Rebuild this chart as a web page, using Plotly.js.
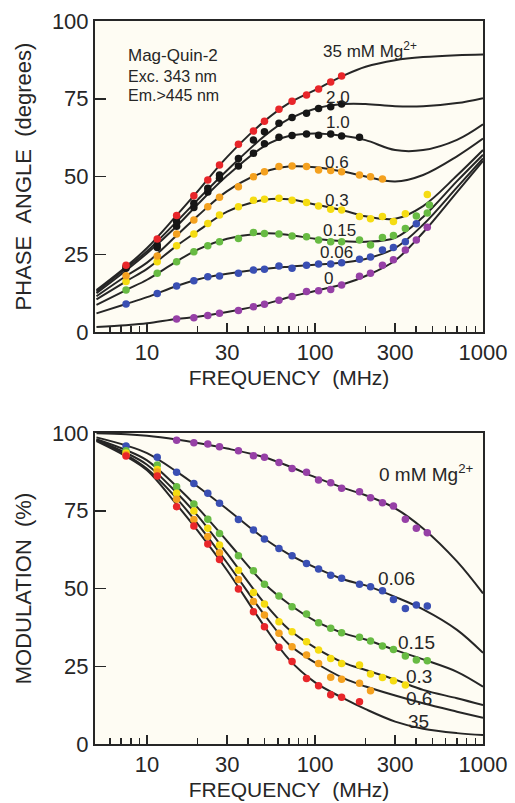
<!DOCTYPE html>
<html>
<head>
<meta charset="utf-8">
<script src="https://cdn.plot.ly/plotly-3.0.1.min.js"></script>
<style>html,body{margin:0;padding:0;background:#fff;}#chart{width:515px;height:803px;}</style>
</head>
<body>
<div id="chart"></div>
<script>
// ---------- DATA ----------
// Measured modulation frequencies (MHz)
const pointFreq = [7.5, 11.5, 15, 19, 23, 27, 35, 43, 50, 61, 73, 89, 105, 124, 144, 184, 214, 252, 293, 345, 401, 466];
// Frequencies at which the fitted curves are read
const fitFreq = [5, 7.5, 10, 15, 20, 30, 50, 70, 100, 150, 200, 300, 440, 700, 1000];

const seriesNames = ['35', '2.0', '1.0', '0.6', '0.3', '0.15', '0.06', '0'];
const seriesColors = ['#e8262a', '#161616', '#161616', '#f4a11f', '#f5dc12', '#68bb43', '#3a4fb3', '#9640a6'];

// Phase angle data points (degrees)
const phase35  = [21.5, 29.9, 37.5, 43.8, 48.9, 53.7, 60.4, 64.6, 67.8, 71.6, 74.2, 76.2, 78.1, 80.4, 82.3, null, null, null, null, null, null, null];
const phase2   = [21.0, 28.0, 35.5, 41.4, 46.2, 50.5, 55.8, 61.7, 64.4, 67.1, 69.0, 70.3, 71.9, 72.4, 73.3, null, null, null, null, null, null, null];
const phase1   = [20.5, 27.2, 34.0, 40.0, 45.0, 49.4, 53.4, 57.5, 60.5, 62.6, 63.2, 63.7, 63.3, 63.7, 63.0, 62.6, null, null, null, null, null, null];
const phase06  = [18.1, 24.4, 31.5, 36.0, 40.3, 43.3, 46.7, 49.9, 51.5, 53.2, 53.4, 53.2, 52.1, 51.9, 51.5, 50.5, 49.9, 49.2, null, null, null, null];
const phase03  = [16.2, 22.6, 27.7, 31.5, 34.9, 37.6, 40.3, 42.4, 42.7, 43.0, 42.4, 41.6, 40.5, 39.5, 39.2, 37.1, 36.4, 37.1, 35.5, 38.0, null, 44.2];
const phase015 = [13.5, 18.9, 22.6, 25.8, 27.7, 29.0, 30.1, 32.0, 31.7, 31.5, 30.9, 30.6, 29.6, 29.0, 29.0, 29.6, 28.0, 30.4, 31.0, 33.3, 37.3, 38.3];
const phase006 = [9.0, 12.4, 14.8, 16.5, 17.8, 18.0, 18.9, 19.9, 20.2, 21.2, 20.5, 21.5, 21.9, 21.9, 22.3, 23.4, 24.1, 26.4, 27.2, 29.0, 34.8, null];
const phase0   = [null, null, 4.2, 4.6, 5.3, 6.0, 6.9, 8.1, 8.9, 10.2, 11.4, 13.0, 13.3, 13.7, 15.1, 17.9, 18.9, 21.5, 23.2, 26.4, 29.6, 33.7];
const phase015ExtraFreq = [480];
const phase015Extra = [40.8];

// Phase angle fitted curves
const phaseFit35  = [13.5, 21.0, 27.0, 37.5, 45.2, 56.3, 67.8, 73.6, 77.8, 82.6, 85.3, 87.4, 88.4, 89.0, 89.2];
const phaseFit2   = [13.0, 20.5, 26.0, 35.5, 42.5, 52.0, 63.0, 68.5, 71.8, 73.3, 73.3, 72.6, 72.6, 73.6, 75.2];
const phaseFit1   = [12.5, 19.8, 25.3, 34.0, 41.0, 50.3, 59.8, 63.0, 63.8, 63.0, 61.7, 58.5, 58.5, 61.8, 66.8];
const phaseFit06  = [11.5, 18.0, 22.3, 31.0, 37.3, 45.3, 51.5, 53.2, 53.0, 51.5, 50.0, 48.4, 50.5, 56.5, 62.2];
const phaseFit03  = [10.5, 16.3, 20.3, 27.7, 32.4, 38.7, 42.5, 42.7, 41.0, 39.0, 37.2, 36.4, 40.5, 50.3, 58.5];
const phaseFit015 = [8.7, 13.5, 16.8, 22.7, 26.5, 30.0, 31.7, 31.2, 30.0, 29.2, 29.0, 30.3, 37.0, 48.5, 57.0];
const phaseFit006 = [6.0, 9.0, 11.2, 14.8, 16.9, 18.7, 20.3, 21.0, 21.6, 22.4, 23.5, 27.0, 34.5, 46.5, 55.8];
const phaseFit0   = [1.6, 2.2, 2.8, 4.2, 4.9, 6.4, 8.9, 11.2, 13.2, 15.5, 18.0, 23.0, 32.0, 45.0, 55.0];

// Modulation data points (%)
const mod0   = [null, null, 97.7, 96.9, 96.5, 95.6, 94.3, 92.7, 92.2, 90.5, 88.6, 87.4, 84.9, 84.0, 82.2, 81.1, 79.2, 77.6, 76.5, 72.3, 69.4, 67.9];
const mod006 = [95.8, 92.2, 87.4, 83.8, 80.6, 77.4, 72.2, 68.8, 65.9, 62.9, 60.5, 58.0, 56.3, 54.3, 53.3, 51.4, 50.6, 49.3, 46.5, 43.6, 44.7, 44.4];
const mod015 = [94.3, 89.7, 82.7, 77.2, 72.3, 67.7, 60.5, 55.7, 51.4, 47.6, 44.1, 41.8, 39.0, 37.2, 35.8, 34.3, 33.1, 31.5, 30.4, 28.3, 27.0, 26.8];
const mod03  = [93.6, 88.3, 80.6, 74.9, 69.4, 64.0, 55.9, 48.7, 45.0, 39.3, 36.1, 32.9, 30.2, 27.5, 25.9, 25.4, 22.5, 21.4, 20.3, 19.0, null, null];
const mod06  = [93.0, 87.5, 78.7, 72.2, 66.7, 61.5, 52.9, 45.8, 41.5, 35.6, 31.3, 28.6, 25.9, 21.5, 20.8, 19.5, 17.1, null, null, null, null, null];
const mod35  = [92.6, 86.2, 76.3, 70.1, 64.3, 59.3, 49.8, 42.5, 37.7, 31.1, 26.5, 21.1, 18.7, 15.8, 15.0, 13.6, null, null, null, null, null, null];

// Modulation fitted curves
const modFit0   = [99.9, 99.6, 99.1, 97.9, 96.8, 95.0, 92.2, 89.3, 85.8, 82.2, 80.0, 75.8, 69.3, 58.7, 48.4];
const modFit006 = [98.6, 96.0, 93.5, 87.6, 82.8, 75.5, 66.0, 61.0, 56.8, 52.8, 51.0, 47.3, 43.3, 36.7, 29.3];
const modFit015 = [98.0, 94.5, 91.2, 82.8, 76.0, 65.2, 51.5, 45.0, 39.6, 35.5, 33.6, 30.2, 27.2, 23.2, 18.4];
const modFit03  = [97.8, 93.6, 89.8, 80.8, 73.4, 61.2, 45.3, 36.8, 31.0, 26.0, 23.8, 20.7, 17.4, 14.7, 12.5];
const modFit06  = [97.6, 93.0, 88.5, 79.0, 70.8, 58.2, 41.5, 32.0, 26.2, 21.0, 18.5, 15.6, 13.1, 10.4, 8.4];
const modFit35  = [97.4, 92.5, 88.0, 77.0, 68.6, 55.8, 37.8, 27.2, 19.8, 14.5, 11.2, 7.2, 4.9, 3.5, 2.9];

const xTickVals = [10, 30, 100, 300, 1000];
const xTickText = ['10', '30', '100', '300', '1000'];
const xMinorVals = [6, 7, 8, 9, 20, 40, 50, 60, 70, 80, 90, 200, 400, 500, 600, 700, 800, 900];
const yTickVals = [0, 25, 50, 75, 100];
const yTickText = ['0', '25', '50', '75', '100'];

// ---------- BUILD ----------
const W = 515, H = 803;
const FONT = 'Liberation Sans, Arial, sans-serif';
const INK = '#262626';
const px = v => v / W;
const py = v => 1 - v / H;
const SP = '\u00a0\u00a0';

const phasePts = [phase35, phase2, phase1, phase06, phase03, phase015, phase006, phase0];
const phaseFits = [phaseFit35, phaseFit2, phaseFit1, phaseFit06, phaseFit03, phaseFit015, phaseFit006, phaseFit0];
const modNames = ['0', '0.06', '0.15', '0.3', '0.6', '35'];
const modColors = ['#9640a6', '#3a4fb3', '#68bb43', '#f5dc12', '#f4a11f', '#e8262a'];
const modPts = [mod0, mod006, mod015, mod03, mod06, mod35];
const modFits = [modFit0, modFit006, modFit015, modFit03, modFit06, modFit35];

const traces = [];
function lineTrace(y, xa, ya, name) {
  return {x: fitFreq, y: y, xaxis: xa, yaxis: ya, mode: 'lines', name: name + ' fit',
    line: {color: INK, width: 2, shape: 'spline', smoothing: 1.0}, hoverinfo: 'skip'};
}
function markerTrace(x, y, color, xa, ya, name) {
  return {x: x, y: y, xaxis: xa, yaxis: ya, mode: 'markers', name: name,
    marker: {color: color, size: 7.5, line: {width: 0}}};
}
phaseFits.forEach((f, i) => traces.push(lineTrace(f, 'x', 'y', seriesNames[i])));
modFits.forEach((f, i) => traces.push(lineTrace(f, 'x2', 'y2', modNames[i])));
for (let i = phasePts.length - 1; i >= 0; i--) {
  traces.push(markerTrace(pointFreq, phasePts[i], seriesColors[i], 'x', 'y', seriesNames[i] + ' mM'));
}
traces.push(markerTrace(phase015ExtraFreq, phase015Extra, seriesColors[5], 'x', 'y', '0.15 mM'));
modPts.forEach((p, i) => traces.push(markerTrace(pointFreq, p, modColors[i], 'x2', 'y2', modNames[i] + ' mM')));

function xAxis(anchor) {
  return {
    type: 'log', range: [Math.log10(4.9), 3.0], domain: [px(95), px(483)], anchor: anchor,
    tickmode: 'array', tickvals: xTickVals, ticktext: xTickText,
    ticks: 'inside', ticklen: 9, tickwidth: 1.5, tickcolor: INK,
    minor: {tickmode: 'array', tickvals: xMinorVals, ticks: 'inside', ticklen: 6, tickwidth: 1.5, tickcolor: INK, showgrid: false},
    showline: true, linecolor: INK, linewidth: 2, mirror: true,
    showgrid: false, zeroline: false,
    tickfont: {family: FONT, size: 22, color: INK},
    title: {text: 'FREQUENCY' + SP + '(MHz)', font: {family: FONT, size: 21, color: INK}, standoff: 6},
    automargin: false, fixedrange: true
  };
}
function yAxis(domain, anchor, title) {
  return {
    range: [0, 100], domain: domain, anchor: anchor,
    tickmode: 'array', tickvals: yTickVals, ticktext: yTickText,
    ticks: 'inside', ticklen: 11, tickwidth: 1.5, tickcolor: INK,
    showline: true, linecolor: INK, linewidth: 2, mirror: true,
    showgrid: false, zeroline: false,
    tickfont: {family: FONT, size: 22, color: INK},
    title: {text: title, font: {family: FONT, size: 22, color: INK}, standoff: 14},
    automargin: false, fixedrange: true
  };
}

const annFont = {family: FONT, size: 17, color: INK};
const annFontB = {family: FONT, size: 19, color: INK};
function ann(text, x, y, font) {
  return {text: text, x: px(x), y: py(y), xref: 'paper', yref: 'paper',
    xanchor: 'left', yanchor: 'middle', showarrow: false, font: font};
}
const annotations = [
  ann('Mag-Quin-2', 126, 55, {family: FONT, size: 17, color: INK}),
  ann('Exc. 343 nm', 126, 77, {family: FONT, size: 16, color: INK}),
  ann('Em.>445 nm', 126, 95, {family: FONT, size: 16, color: INK}),
  ann('35 mM Mg<sup>2+</sup>', 321, 50, annFont),
  ann('2.0', 324, 97, annFont),
  ann('1.0', 324, 123, annFont),
  ann('0.6', 323, 162, annFont),
  ann('0.3', 323, 200, annFont),
  ann('0.15', 321, 230, annFont),
  ann('0.06', 318, 253, annFont),
  ann('0', 322, 278, annFont),
  ann('0 mM Mg<sup>2+</sup>', 377, 473, annFontB),
  ann('0.06', 376, 578, annFontB),
  ann('0.15', 396, 642, annFontB),
  ann('0.3', 404, 676, annFontB),
  ann('0.6', 404, 698, annFontB),
  ann('35', 406, 721, annFontB)
];

const layout = {
  width: W, height: H,
  margin: {l: 0, r: 0, t: 0, b: 0, pad: 0},
  paper_bgcolor: '#ffffff',
  plot_bgcolor: '#fefcf3',
  showlegend: false,
  font: {family: FONT, color: INK},
  xaxis: xAxis('y'),
  yaxis: yAxis([py(332), py(21)], 'x', 'PHASE' + SP + 'ANGLE' + SP + '(degrees)'),
  xaxis2: xAxis('y2'),
  yaxis2: yAxis([py(744), py(433)], 'x2', 'MODULATION' + SP + '(%)'),
  annotations: annotations
};

Plotly.newPlot('chart', traces, layout, {staticPlot: true, displayModeBar: false});
</script>
</body>
</html>
